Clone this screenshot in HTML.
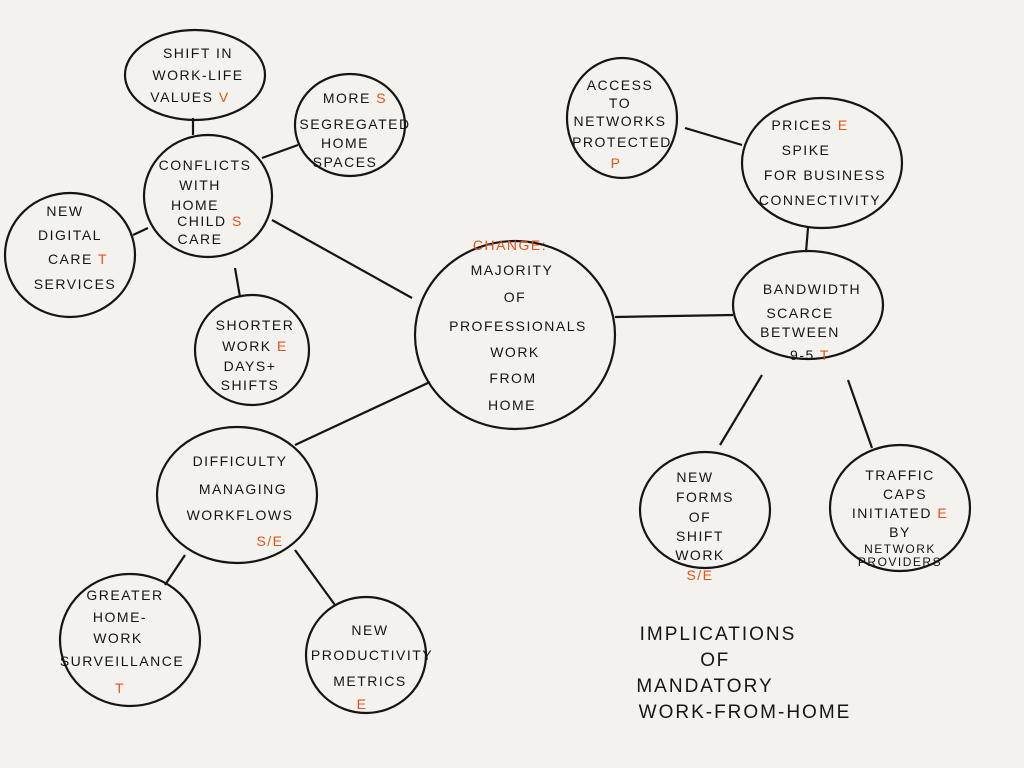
<!DOCTYPE html>
<html><head><meta charset="utf-8"><style>
html,body{margin:0;padding:0;background:#f3f2ee;}
svg{display:block}
text{font-family:"Liberation Sans",sans-serif;font-size:14px;fill:#151515;text-anchor:middle;letter-spacing:1.5px}
.o{fill:#e0541a}
</style></head><body>
<svg width="1024" height="768" viewBox="0 0 1024 768">
<rect width="1024" height="768" fill="#f3f2ee"/>
<g fill="none" stroke="#151515" stroke-width="2.2">
<ellipse cx="515" cy="335" rx="100" ry="94"/>
<ellipse cx="195" cy="75" rx="70" ry="45"/>
<ellipse cx="208" cy="196" rx="64" ry="61"/>
<ellipse cx="350" cy="125" rx="55" ry="51"/>
<ellipse cx="70" cy="255" rx="65" ry="62"/>
<ellipse cx="252" cy="350" rx="57" ry="55"/>
<ellipse cx="237" cy="495" rx="80" ry="68"/>
<ellipse cx="130" cy="640" rx="70" ry="66"/>
<ellipse cx="366" cy="655" rx="60" ry="58"/>
<ellipse cx="622" cy="118" rx="55" ry="60"/>
<ellipse cx="822" cy="163" rx="80" ry="65"/>
<ellipse cx="808" cy="305" rx="75" ry="54"/>
<ellipse cx="705" cy="510" rx="65" ry="58"/>
<ellipse cx="900" cy="508" rx="70" ry="63"/>
<path d="M412 298L272 220M193 135L193 118M262 158L298 145M148 228L133 235M235 268L240 297M430 382L295 445M185 555L165 585M295 550L335 605M615 317L733 315M685 128L742 145M808 228L806 252M762 375L720 445M848 380L872 448"/>
</g>
<text x="198" y="58">SHIFT IN</text><text x="198" y="80">WORK-LIFE</text><text x="190" y="102">VALUES <tspan class="o">V</tspan></text>
<text x="205" y="170">CONFLICTS</text><text x="200" y="190">WITH</text><text x="195" y="210">HOME</text><text x="210" y="226">CHILD <tspan class="o">S</tspan></text><text x="200" y="244">CARE</text>
<text x="355" y="103">MORE <tspan class="o">S</tspan></text><text x="355" y="129">SEGREGATED</text><text x="345" y="148">HOME</text><text x="345" y="167">SPACES</text>
<text x="65" y="216">NEW</text><text x="70" y="240">DIGITAL</text><text x="78" y="264">CARE <tspan class="o">T</tspan></text><text x="75" y="289">SERVICES</text>
<text x="255" y="330">SHORTER</text><text x="255" y="351">WORK <tspan class="o">E</tspan></text><text x="250" y="371">DAYS+</text><text x="250" y="390">SHIFTS</text>
<text x="510" y="250" class="o">CHANGE:</text><text x="512" y="275">MAJORITY</text><text x="515" y="302">OF</text><text x="518" y="331">PROFESSIONALS</text><text x="515" y="357">WORK</text><text x="513" y="383">FROM</text><text x="512" y="410">HOME</text>
<text x="240" y="466">DIFFICULTY</text><text x="243" y="494">MANAGING</text><text x="240" y="520">WORKFLOWS</text><text x="270" y="546" class="o">S/E</text>
<text x="125" y="600">GREATER</text><text x="120" y="622">HOME-</text><text x="118" y="643">WORK</text><text x="122" y="666">SURVEILLANCE</text><text x="120" y="693" class="o">T</text>
<text x="370" y="635">NEW</text><text x="372" y="660">PRODUCTIVITY</text><text x="370" y="686">METRICS</text><text x="362" y="709" class="o">E</text>
<text x="620" y="90">ACCESS</text><text x="620" y="108">TO</text><text x="620" y="126">NETWORKS</text><text x="622" y="147">PROTECTED</text><text x="616" y="168" class="o">P</text>
<text x="810" y="130">PRICES <tspan class="o">E</tspan></text><text x="806" y="155">SPIKE</text><text x="825" y="180">FOR BUSINESS</text><text x="820" y="205">CONNECTIVITY</text>
<text x="812" y="294">BANDWIDTH</text><text x="800" y="318">SCARCE</text><text x="800" y="337">BETWEEN</text><text x="810" y="360">9-5 <tspan class="o">T</tspan></text>
<text x="695" y="482">NEW</text><text x="705" y="502">FORMS</text><text x="700" y="522">OF</text><text x="700" y="541">SHIFT</text><text x="700" y="560">WORK</text><text x="700" y="580" class="o">S/E</text>
<text x="900" y="480">TRAFFIC</text><text x="905" y="499">CAPS</text><text x="900" y="518">INITIATED <tspan class="o">E</tspan></text><text x="900" y="537">BY</text><text x="900" y="553" style="font-size:12px">NETWORK</text><text x="900" y="566" style="font-size:12px">PROVIDERS</text>
<text x="718" y="640" style="font-size:19px;letter-spacing:2px">IMPLICATIONS</text><text x="715" y="666" style="font-size:19px">OF</text><text x="705" y="692" style="font-size:19px;letter-spacing:2px">MANDATORY</text><text x="745" y="718" style="font-size:19px;letter-spacing:2px">WORK-FROM-HOME</text>
</svg>
</body></html>
